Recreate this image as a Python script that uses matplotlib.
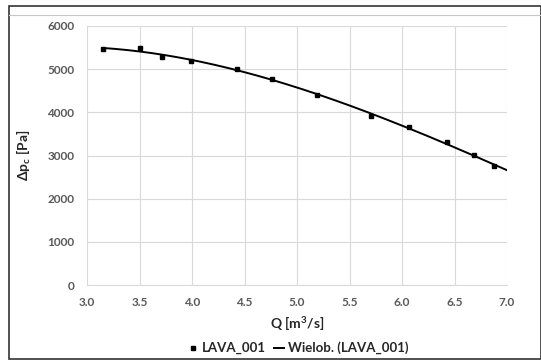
import numpy as np
import matplotlib.pyplot as plt
from matplotlib.patches import Rectangle
from matplotlib.lines import Line2D

# dane pomiarowe LAVA_001
Q = [3.155, 3.50, 3.717, 3.988, 4.432, 4.759, 5.188, 5.702, 6.07, 6.43, 6.683, 6.879]
dp = [5460, 5497, 5289, 5182, 5011, 4779, 4394, 3915, 3660, 3305, 3004, 2757]

x_ticks = [3.0, 3.5, 4.0, 4.5, 5.0, 5.5, 6.0, 6.5, 7.0]
y_ticks = [0, 1000, 2000, 3000, 4000, 5000, 6000]

plt.rcParams['font.family'] = ['Lato', 'DejaVu Sans']
plt.rcParams['mathtext.fontset'] = 'custom'
plt.rcParams['mathtext.rm'] = 'Lato'
plt.rcParams['mathtext.bf'] = 'Lato:bold'

W, H = 541, 361
fig = plt.figure(figsize=(W / 100, H / 100), dpi=100)
ax = fig.add_axes([87 / W, 1 - 285 / H, 420 / W, 259 / H])

# linia trendu: wielomian 3 stopnia
coef = np.polyfit(Q, dp, 3)
xx = np.linspace(Q[0], 7.0, 200)
ax.plot(xx, np.polyval(coef, xx), color='black', lw=1.4, zorder=3)
ax.plot(Q, dp, 's', color='black', ms=2.6, zorder=4)

ax.set_xlim(3.0, 7.0)
ax.set_ylim(0, 6000)
ax.set_xticks(x_ticks)
ax.set_xticklabels([f'{v:.1f}' for v in x_ticks])
ax.set_yticks(y_ticks)
ax.grid(True, color='#d9d9d9', lw=0.8)
ax.set_axisbelow(True)
for s in ax.spines.values():
    s.set_visible(False)
ax.spines['bottom'].set_visible(True)
ax.spines['bottom'].set_color('#d9d9d9')
ax.tick_params(length=0, labelsize=8.5, colors='#595959')
ax.tick_params(axis='x', pad=9)
ax.tick_params(axis='y', pad=9)
for lab in ax.get_xticklabels() + ax.get_yticklabels():
    lab.set_fontweight('bold')

ax.set_xlabel(r'Q [m$^\mathbf{3}$/s]', fontsize=10, fontweight='bold', color='#262626', labelpad=4)
ax.set_ylabel(r'Δp$_\mathbf{c}$ [Pa]', fontsize=10, fontweight='bold',
              color='#262626', labelpad=10)

# legenda
handles = [Line2D([], [], marker='s', ls='none', color='black', ms=2.6),
           Line2D([], [], color='black', lw=1.4)]
leg = fig.legend(handles, ['LAVA_001', 'Wielob. (LAVA_001)'], loc='center',
                 bbox_to_anchor=(298 / W, 1 - 348 / H), ncol=2, frameon=False,
                 handlelength=0.8, handletextpad=0.3, columnspacing=0.6,
                 prop={'weight': 'bold', 'size': 9.5})
for t in leg.get_texts():
    t.set_color('#262626')

# ramka wykresu
fig.add_artist(Rectangle((9 / W, 2 / H), (W - 9.5) / W, (H - 8) / H,
                         transform=fig.transFigure, fill=False, ec='#333333', lw=1.2))
fig.add_artist(Line2D([9 / W, 1], [1 - 15 / H, 1 - 15 / H], transform=fig.transFigure,
                      color='#c8c8c8', lw=0.8))

fig.savefig('out.png', dpi=100)
